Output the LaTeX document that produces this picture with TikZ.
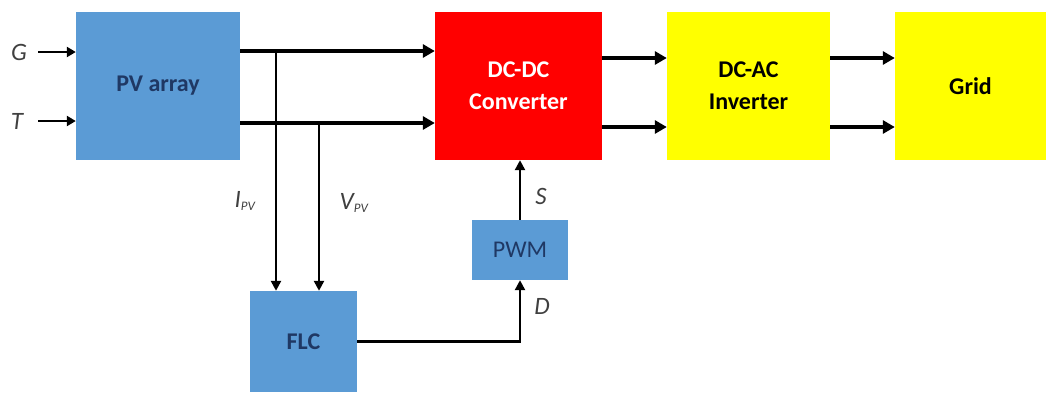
\documentclass[tikz,border=0pt]{standalone}
\usepackage{fontspec}
\setmainfont{Carlito}
\usetikzlibrary{arrows.meta,calc}
\definecolor{pvblue}{HTML}{5B9BD5}
\definecolor{navy}{HTML}{1F3864}
\definecolor{dcred}{HTML}{FF0000}
\definecolor{ylw}{HTML}{FFFF00}
\begin{document}
\begin{tikzpicture}[x=1pt,y=-1pt,
  box/.style={draw=none,inner sep=0pt,align=center,font=\fontsize{24}{32}\selectfont\bfseries},
  bluebox/.style={box,fill=pvblue,text=navy},
  power/.style={line width=3.8pt,-{Triangle[length=12pt,width=13pt]}},
  sig/.style={line width=2.4pt,-{Triangle[length=10pt,width=10pt]}},
  inarr/.style={line width=2.8pt,-{Triangle[length=9pt,width=10pt]}},
  lbl/.style={font=\fontsize{25}{27}\selectfont\itshape,text=black!75,inner sep=0pt}]
\useasboundingbox (0,0) rectangle (1046,392);
\node[bluebox,minimum width=164pt,minimum height=148pt] (pv) at (158,86) {PV array};
\node[box,fill=dcred,text=white,minimum width=167pt,minimum height=148pt] (dcdc) at (518.5,86) {DC-DC\\Converter};
\node[box,fill=ylw,text=black,minimum width=163pt,minimum height=148pt] (dcac) at (748.5,86) {DC-AC\\Inverter};
\node[box,fill=ylw,text=black,minimum width=151pt,minimum height=148pt] (grid) at (970.5,86) {Grid};
\node[bluebox,font=\fontsize{24}{27}\selectfont,minimum width=96pt,minimum height=60pt] (pwm) at (520,250) {PWM};
\node[bluebox,minimum width=107pt,minimum height=101pt] (flc) at (303.5,341.5) {FLC};
% inputs
\node[lbl] (g) at (19,52) {G};
\node[lbl] (t) at (17,121) {T};
\coordinate (gs) at (38,52);
\coordinate (ts) at (38,121);
\draw[inarr] (gs) -- (gs -| pv.west);
\draw[inarr] (ts) -- (ts -| pv.west);
% PV outputs
\coordinate (o1) at (240,51);
\coordinate (o2) at (240,123);
\draw[power] (o1) -- (o1 -| dcdc.west);
\draw[power] (o2) -- (o2 -| dcdc.west);
\coordinate (ji) at (276,51);
\coordinate (jv) at (319,123);
\draw[sig] (ji) -- (ji |- flc.north);
\draw[sig] (jv) -- (jv |- flc.north);
\node[lbl] (ipv) at (245,201) {I\textsubscript{\fontsize{13}{13}\selectfont PV}};
\node[lbl] (vpv) at (354,203) {V\textsubscript{\fontsize{13}{13}\selectfont PV}};
% DC-DC to DC-AC
\coordinate (c1) at (602,58);
\coordinate (c2) at (602,127);
\draw[power] (c1) -- (c1 -| dcac.west);
\draw[power] (c2) -- (c2 -| dcac.west);
% DC-AC to Grid
\coordinate (d1) at (830,58);
\coordinate (d2) at (830,127);
\draw[power] (d1) -- (d1 -| grid.west);
\draw[power] (d2) -- (d2 -| grid.west);
% control
\draw[sig] (pwm.north) -- (pwm.north |- dcdc.south);
\node[lbl] (s) at (541,196) {S};
\draw[sig] (flc.east) -| (pwm.south);
\node[lbl] (d) at (542,306) {D};
\end{tikzpicture}
\end{document}
